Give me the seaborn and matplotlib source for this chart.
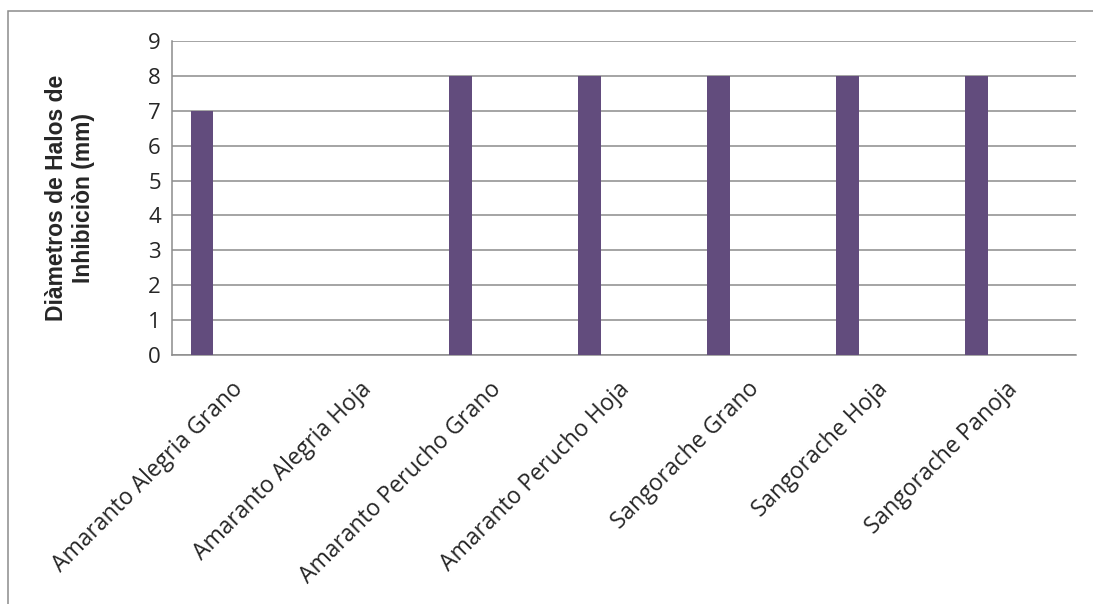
import matplotlib
matplotlib.use("Agg")
import matplotlib.pyplot as plt
import matplotlib.transforms as mtransforms
import seaborn as sns
import pandas as pd
from matplotlib.patches import Rectangle

categories = ["Amaranto Alegria Grano", "Amaranto Alegria Hoja", "Amaranto Perucho Grano",
              "Amaranto Perucho Hoja", "Sangorache Grano", "Sangorache Hoja", "Sangorache Panoja"]
halos = [7, 0, 8, 8, 8, 8, 8]
y_ticks = list(range(0, 10))

df = pd.DataFrame({"Muestra": categories, "Halo": halos})

sns.set_style("white")
plt.rcParams["font.family"] = ["Open Sans", "DejaVu Sans"]

fig = plt.figure(figsize=(10.93, 6.04), dpi=100)
ax = fig.add_axes([172 / 1093, 1 - 355 / 604, (1076 - 172) / 1093, (355 - 41) / 604])

sns.barplot(data=df, x="Muestra", y="Halo", color="#624c7d", width=0.176, ax=ax,
            saturation=1, zorder=3, linewidth=0)
# shift bars to the left of each slot, like the original
for p in ax.patches:
    p.set_x(p.get_x() - 0.268)

ax.set_xlim(-0.5, len(categories) - 0.5)
ax.set_ylim(0, 9)
ax.set_yticks(y_ticks)
ax.set_yticklabels([str(t) for t in y_ticks], fontsize=16)
ax.yaxis.grid(True, color="#8c8c8c", linewidth=1.1, zorder=0)
ax.set_axisbelow(True)
ax.tick_params(axis="y", length=0, pad=8)
ax.tick_params(axis="x", length=0, pad=16)
ax.set_xticks(range(len(categories)))
ax.set_xticklabels(categories, rotation=45, ha="right", va="top", rotation_mode="anchor",
                   fontsize=16.5)
shift = mtransforms.ScaledTranslation(-0.06, 0, fig.dpi_scale_trans)
for lbl in ax.get_xticklabels():
    lbl.set_transform(lbl.get_transform() + shift)
ax.set_xlabel("")
ax.set_ylabel("Diàmetros de Halos de\nInhibiciòn (mm)", fontsize=16.5, fontweight="bold",
              family=["Liberation Sans", "DejaVu Sans"], linespacing=1.25)
ax.yaxis.set_label_coords(-0.085, 0.5)

for side in ["top", "right"]:
    ax.spines[side].set_visible(False)
for side in ["left", "bottom"]:
    ax.spines[side].set_color("#8c8c8c")
    ax.spines[side].set_linewidth(1.1)

# outer chart border
fig.patches.append(Rectangle((8 / 1093, -0.1), 1.2, 1.1 - 11 / 604, transform=fig.transFigure,
                             fill=False, edgecolor="#8c8c8c", linewidth=1.1))

fig.savefig("out.png", dpi=100)
